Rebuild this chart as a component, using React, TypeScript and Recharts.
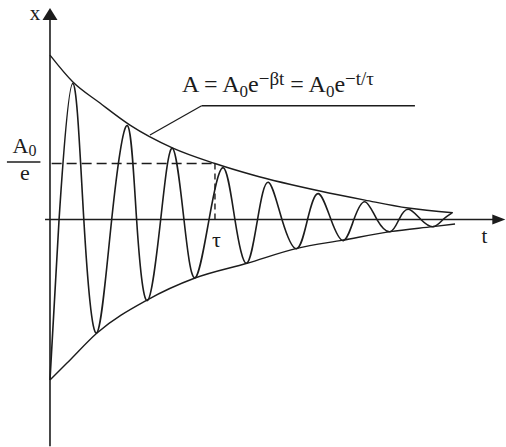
import React from 'react';
import { ComposedChart, Line, XAxis, YAxis, ReferenceLine, ReferenceDot } from 'recharts';

// Damped oscillation x(t), t in units of tau, x in units of A0
const oscT = [0, 0.055, 0.138, 0.205, 0.283, 0.374, 0.469, 0.525, 0.59, 0.671, 0.742, 0.812, 0.879, 0.964, 1.05, 1.121, 1.192, 1.258, 1.323, 1.406, 1.495, 1.561, 1.626, 1.703, 1.778, 1.842, 1.909, 1.982, 2.061, 2.115, 2.172, 2.248, 2.323, 2.382, 2.435];
const oscX = [-0.99, 0, 0.84, 0, -0.7, 0, 0.58, 0, -0.5, 0, 0.44, 0, -0.36, 0, 0.32, 0, -0.27, 0, 0.23, 0, -0.18, 0, 0.16, 0, -0.13, 0, 0.11, 0, -0.075, 0, 0.063, 0, -0.044, 0, 0.04];

// Upper envelope +A(t)
const upperT = [0, 0.139, 0.303, 0.485, 0.745, 1.0, 1.23, 1.636, 1.909, 2.17, 2.442];
const upperA = [1.015, 0.849, 0.719, 0.583, 0.441, 0.346, 0.275, 0.176, 0.12, 0.071, 0.042];

// Lower envelope -A(t)
const lowerT = [0, 0.103, 0.285, 0.588, 0.879, 1.194, 1.497, 1.776, 2.061, 2.321, 2.455];
const lowerA = [-0.99, -0.886, -0.7, -0.497, -0.361, -0.27, -0.178, -0.127, -0.075, -0.044, -0.028];

// Annotation values
const TAU = 1.0;
const A0_OVER_E = 0.346;
const leaderT = [0.606, 0.919, 2.212];
const leaderV = [0.522, 0.702, 0.702];

const T_MIN = -0.303;
const T_MAX = 2.764;
const V_MIN = -1.404;
const V_MAX = 1.355;

const oscData = oscT.map((t, i) => ({ t, v: oscX[i] }));
const upperData = upperT.map((t, i) => ({ t, v: upperA[i] }));
const lowerData = lowerT.map((t, i) => ({ t, v: lowerA[i] }));

const INK = '#1c1c1c';
const FONT = '"Liberation Serif", "Times New Roman", serif';

const UpArrow = (p: any) => (
  <polygon points={`${p.cx},${p.cy} ${p.cx - 7.5},${p.cy + 12} ${p.cx + 7.5},${p.cy + 12}`} fill={INK} />
);
const RightArrow = (p: any) => (
  <polygon points={`${p.cx},${p.cy} ${p.cx - 13},${p.cy - 5} ${p.cx - 13},${p.cy + 5}`} fill={INK} />
);
const makeText = (txt: string, size: number, anchor: string = 'middle') => (p: any) => (
  <text x={p.cx} y={p.cy} fontSize={size} fontFamily={FONT} fill={INK} textAnchor={anchor}>{txt}</text>
);
const A0Label = (p: any) => (
  <text x={p.cx} y={p.cy} fontSize={22} fontFamily={FONT} fill={INK}>
    A<tspan fontSize={16} dy={3}>0</tspan>
  </text>
);
const Formula = (p: any) => (
  <text x={p.cx} y={p.cy} fontSize={24} fontFamily={FONT} fill={INK}>
    A = A<tspan fontSize={17} dy={5}>0</tspan><tspan dy={-5}>e</tspan><tspan fontSize={19} dy={-7}>−βt</tspan><tspan dy={7}> = A</tspan><tspan fontSize={17} dy={5}>0</tspan><tspan dy={-5}>e</tspan><tspan fontSize={19} dy={-7}>−t/τ</tspan>
  </text>
);

export default function App() {
  return (
    <div style={{ position: 'absolute', left: 0, top: 0, background: '#fff' }}>
      <ComposedChart width={506} height={447} margin={{ top: 0, right: 0, bottom: 0, left: 0 }}>
        <XAxis type="number" dataKey="t" domain={[T_MIN, T_MAX]} allowDataOverflow hide />
        <YAxis type="number" dataKey="v" domain={[V_MIN, V_MAX]} allowDataOverflow hide />

        {/* axes */}
        <ReferenceLine segment={[{ x: 0, y: -1.4 }, { x: 0, y: 1.235 }]} stroke={INK} strokeWidth={1.6} />
        <ReferenceLine segment={[{ x: -0.03, y: 0 }, { x: 2.69, y: 0 }]} stroke={INK} strokeWidth={1.6} />
        <ReferenceDot x={0} y={1.306} r={0} shape={UpArrow} />
        <ReferenceDot x={2.76} y={0} r={0} shape={RightArrow} />

        {/* dashed A0/e and tau marks */}
        <ReferenceLine segment={[{ x: 0.01, y: A0_OVER_E }, { x: TAU, y: A0_OVER_E }]} stroke={INK} strokeWidth={1.4} strokeDasharray="10 5" />
        <ReferenceLine segment={[{ x: TAU, y: A0_OVER_E }, { x: TAU, y: 0 }]} stroke={INK} strokeWidth={1.4} strokeDasharray="6 4" />

        {/* leader line to formula */}
        <ReferenceLine segment={[{ x: leaderT[0], y: leaderV[0] }, { x: leaderT[1], y: leaderV[1] }]} stroke={INK} strokeWidth={1.3} />
        <ReferenceLine segment={[{ x: leaderT[1], y: leaderV[1] }, { x: leaderT[2], y: leaderV[2] }]} stroke={INK} strokeWidth={1.4} />

        {/* fraction A0 / e */}
        <ReferenceLine segment={[{ x: -0.261, y: 0.355 }, { x: -0.058, y: 0.355 }]} stroke={INK} strokeWidth={1.4} />

        <Line data={upperData} dataKey="v" type="monotone" stroke={INK} strokeWidth={1.4} dot={false} activeDot={false} isAnimationActive={false} />
        <Line data={lowerData} dataKey="v" type="monotone" stroke={INK} strokeWidth={1.4} dot={false} activeDot={false} isAnimationActive={false} />
        <Line data={oscData} dataKey="v" type="natural" stroke={INK} strokeWidth={1.6} dot={false} activeDot={false} isAnimationActive={false} />

        {/* text */}
        <ReferenceDot x={-0.091} y={1.231} r={0} shape={makeText('x', 21)} />
        <ReferenceDot x={2.633} y={-0.145} r={0} shape={makeText('t', 21)} />
        <ReferenceDot x={1.009} y={-0.17} r={0} shape={makeText('τ', 22)} />
        <ReferenceDot x={-0.227} y={0.41} r={0} shape={A0Label} />
        <ReferenceDot x={-0.152} y={0.244} r={0} shape={makeText('e', 22)} />
        <ReferenceDot x={0.8} y={0.789} r={0} shape={Formula} />
      </ComposedChart>
    </div>
  );
}
